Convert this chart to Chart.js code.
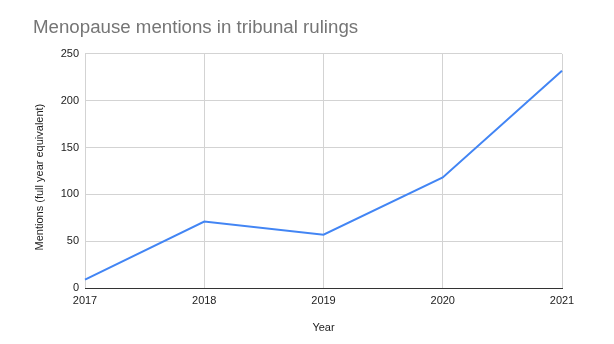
<!DOCTYPE html>
<html>
<head>
<meta charset="utf-8">
<script src="https://cdn.jsdelivr.net/npm/chart.js@4"></script>
<style>
  html, body { margin: 0; padding: 0; background: #fff; }
  #wrap { width: 614px; height: 344px; position: relative; }
</style>
</head>
<body>
<div id="wrap"><canvas id="menopauseChart"></canvas></div>
<script>
const YEARS = ["2017", "2018", "2019", "2020", "2021"];
const MENTIONS = [9, 71, 57, 118, 232];
const Y_TICKS = [0, 50, 100, 150, 200, 250];

const FONT = "'Liberation Sans', Arial, sans-serif";
const LINE_COLOR = "#4285f4";
const GRID_COLOR = "#d3d3d3";

const ctx = document.getElementById("menopauseChart").getContext("2d");

new Chart(ctx, {
  type: "line",
  data: {
    labels: YEARS,
    datasets: [
      {
        label: "Mentions",
        data: MENTIONS,
        borderColor: LINE_COLOR,
        backgroundColor: LINE_COLOR,
        borderWidth: 2,
        pointRadius: 0,
        tension: 0,
        fill: false,
      },
    ],
  },
  options: {
    animation: false,
    responsive: true,
    maintainAspectRatio: false,
    layout: {
      padding: { left: 33, right: 52, top: 0, bottom: 0 },
    },
    scales: {
      x: {
        offset: false,
        grid: { color: GRID_COLOR, drawTicks: false },
        border: { color: "#333", width: 1 },
        ticks: {
          color: "#222",
          padding: 6,
          maxRotation: 0,
          font: { family: FONT, size: 11 },
        },
        title: {
          display: true,
          text: "Year",
          color: "#222",
          padding: { top: 8, bottom: 9 },
          font: { family: FONT, size: 11 },
        },
        afterFit: (scale) => {
          scale.height = 56;
        },
      },
      y: {
        min: 0,
        max: 250,
        afterBuildTicks: (scale) => {
          scale.ticks = Y_TICKS.map((v) => ({ value: v }));
        },
        grid: { color: GRID_COLOR, drawTicks: false },
        border: { display: false },
        ticks: {
          color: "#222",
          padding: 6,
          font: { family: FONT, size: 11 },
        },
        title: {
          display: true,
          // trailing spaces nudge the rotated title a little lower, like the original
          text: "Mentions (full year equivalent)    ",
          color: "#222",
          padding: { top: 0, bottom: 0 },
          font: { family: FONT, size: 11 },
        },
        afterFit: (scale) => {
          scale.width = 52;
        },
      },
    },
    plugins: {
      legend: { display: false },
      tooltip: { enabled: false },
      title: {
        display: true,
        text: "Menopause mentions in tribunal rulings",
        align: "start",
        color: "#757575",
        font: { family: FONT, size: 18.7, weight: "normal" },
        padding: { top: 17, bottom: 14.5 },
      },
    },
  },
});
</script>
</body>
</html>
